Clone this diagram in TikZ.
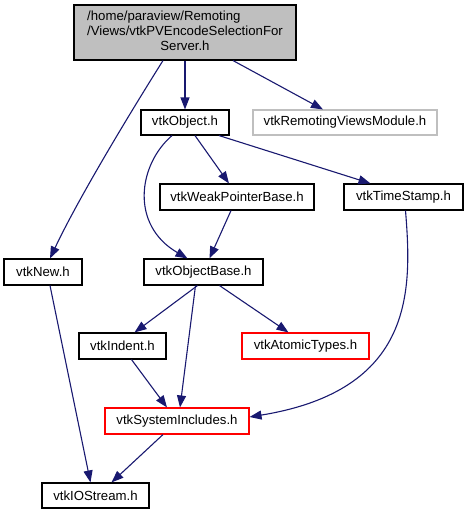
\documentclass[tikz,border=0pt]{standalone}
\usepackage{fontspec}
\setmainfont{Liberation Sans}
\usetikzlibrary{arrows.meta}
\definecolor{edgeblue}{HTML}{191970}
\definecolor{graybox}{HTML}{BFBFBF}
\begin{document}
\begin{tikzpicture}[x=1pt,y=-1pt,
  box/.style={draw=black,line width=1.1pt,inner sep=0pt,minimum height=26pt,font=\fontsize{13.2}{15}\selectfont},
  redbox/.style={box,draw=red},
  greybox/.style={box,draw=graybox},
  edge/.style={draw=edgeblue,line width=1.1pt,-{Triangle[length=12pt,width=9pt]}}]
\useasboundingbox (0,0) rectangle (469,515);
\node[box,fill=graybox,minimum width=222pt,minimum height=55pt] (top) at (185,32.5)
  {\begin{tabular}{@{}l@{}}/home/paraview/Remoting\\/Views/vtkPVEncodeSelectionFor\\\multicolumn{1}{@{}c@{}}{Server.h}\end{tabular}};
\node[box,minimum width=88pt,minimum height=25pt] (obj) at (185,122.5) {vtkObject.h};
\node[greybox,minimum width=184pt,minimum height=25pt] (mod) at (345,122.5) {vtkRemotingViewsModule.h};
\node[box,minimum width=154pt] (weak) at (237,197) {vtkWeakPointerBase.h};
\node[box,minimum width=119pt] (ts) at (403.5,197) {vtkTimeStamp.h};
\node[box,minimum width=78pt] (new) at (43,272) {vtkNew.h};
\node[box,minimum width=119pt] (ob) at (203.5,272) {vtkObjectBase.h};
\node[box,minimum width=87pt] (ind) at (122.5,346) {vtkIndent.h};
\node[redbox,minimum width=127pt] (at) at (305.5,346) {vtkAtomicTypes.h};
\node[redbox,minimum width=144pt] (sys) at (177,421) {vtkSystemIncludes.h};
\node[box,minimum width=107pt,minimum height=25pt] (ios) at (95.5,495.5) {vtkIOStream.h};

\draw[edge] ([xshift=-22]top.south) .. controls (135,105) and (80,195) .. ([xshift=7]new.north);
\draw[edge] (top.south) -- (obj.north);
\draw[edge] ([xshift=48]top.south) -- ([xshift=-22]mod.north);
\draw[edge] ([xshift=10]obj.south) -- ([xshift=-8]weak.north);
\draw[edge] ([xshift=-13]obj.south) .. controls (138,165) and (130,225) .. ([xshift=-16]ob.north);
\draw[edge] ([xshift=34]obj.south) -- ([xshift=-33]ts.north);
\draw[edge] ([xshift=-6]weak.south) -- ([xshift=6]ob.north);
\draw[edge] ([xshift=2]ts.south) .. controls (412,290) and (415,390) .. ([yshift=4]sys.east);
\draw[edge] ([xshift=7]new.south) -- ([xshift=-5]ios.north);
\draw[edge] ([xshift=-6]ob.south) -- ([xshift=12]ind.north);
\draw[edge] ([xshift=-8]ob.south) -- ([xshift=3]sys.north);
\draw[edge] ([xshift=16]ob.south) -- ([xshift=-17]at.north);
\draw[edge] ([xshift=9]ind.south) -- ([xshift=-10]sys.north);
\draw[edge] ([xshift=-14]sys.south) -- ([xshift=16]ios.north);
\end{tikzpicture}
\end{document}
